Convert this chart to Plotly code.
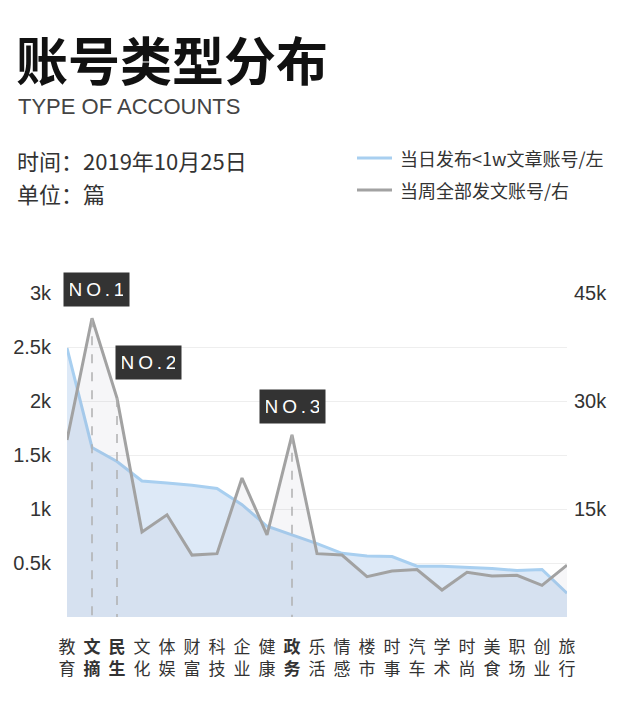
import plotly.graph_objects as go

categories = ["教育", "文摘", "民生", "文化", "体娱", "财富", "科技", "企业", "健康", "政务",
              "乐活", "情感", "楼市", "时事", "汽车", "学术", "时尚", "美食", "职场", "创业", "旅行"]
daily_lt_1w = [2490, 1570, 1440, 1260, 1240, 1220, 1190, 1040, 840, 760,
               680, 590, 565, 560, 470, 470, 460, 450, 430, 440, 220]
weekly_all = [24600, 41500, 30400, 11800, 14200, 8600, 8800, 19300, 11400, 25300,
              8800, 8600, 5600, 6400, 6600, 3750, 6200, 5700, 5800, 4400, 7200]
highlights = ["文摘", "民生", "政务"]
highlight_labels = ["N\u2009O\u2009.\u20091", "N\u2009O\u2009.\u20092", "N\u2009O\u2009.\u20093"]
left_ticks = [500, 1000, 1500, 2000, 2500, 3000]
left_tick_text = ["0.5k", "1k", "1.5k", "2k", "2.5k", "3k"]
right_ticks = [15000, 30000, 45000]
right_tick_text = ["15k", "30k", "45k"]
legend_names = ["当日发布<1w文章账号/左", "当周全部发文账号/右"]

# page body has an 8px margin: work in reference pixels minus that offset
OFF = 8
W, H = 626 - OFF, 705 - OFF
L, R, T, B = 67 - OFF, 567 - OFF, 293 - OFF, 617 - OFF
FONT = "Liberation Sans, Noto Sans CJK SC, sans-serif"
CJK = "Noto Sans CJK SC, sans-serif"


def px(x):
    return (x - OFF - L) / (R - L)


def py(y):
    return (B - (y - OFF)) / (B - T)


ticktext = []
for c in categories:
    t = c[0] + "<br>" + c[1]
    if c in highlights:
        t = "<b>" + c[0] + "</b><br><b>" + c[1] + "</b>"
    ticktext.append(t)

fig = go.Figure()
fig.add_trace(go.Scatter(
    x=categories, y=daily_lt_1w, mode="lines", fill="tozeroy",
    line=dict(color="#a8cff0", width=3), fillcolor="#dde9f7",
    yaxis="y", showlegend=False, hoverinfo="skip"))
fig.add_trace(go.Scatter(
    x=categories, y=weekly_all, mode="lines", fill="tozeroy",
    line=dict(color="#a2a2a2", width=3), fillcolor="rgba(140,140,160,0.08)",
    yaxis="y2", showlegend=False, hoverinfo="skip"))

dx, dy = [], []
for c in highlights:
    i = categories.index(c)
    dx += [c, c, None]
    dy += [weekly_all[i], 0, None]
fig.add_trace(go.Scatter(
    x=dx, y=dy, mode="lines", yaxis="y2",
    line=dict(color="#b0b0b0", width=1.5, dash="dash"),
    showlegend=False, hoverinfo="skip"))

annotations = []
shifts = [(4, 29), (31, 36), (0, 28)]
for c, lab, (xs, ys) in zip(highlights, highlight_labels, shifts):
    i = categories.index(c)
    annotations.append(dict(
        x=c, y=weekly_all[i], xref="x", yref="y2", text=lab, showarrow=False,
        xshift=xs, yshift=ys, bgcolor="#333333", width=53, height=21, borderpad=6,
        font=dict(family=FONT, size=19, color="white")))

annotations += [
    dict(x=px(14), y=py(58), xref="paper", yref="paper", xanchor="left", yanchor="middle",
         text="<b>账号类型分布</b>", showarrow=False,
         font=dict(family=CJK, size=52, color="#111111")),
    dict(x=px(16), y=py(106), xref="paper", yref="paper", xanchor="left", yanchor="middle",
         text="TYPE OF ACCOUNTS", showarrow=False,
         font=dict(family=FONT, size=22, color="#444444")),
    dict(x=px(15), y=py(160), xref="paper", yref="paper", xanchor="left", yanchor="middle",
         text="时间：2019年10月25日", showarrow=False,
         font=dict(family=CJK, size=22, color="#333333")),
    dict(x=px(15), y=py(193), xref="paper", yref="paper", xanchor="left", yanchor="middle",
         text="单位：篇", showarrow=False,
         font=dict(family=CJK, size=22, color="#333333")),
    dict(x=px(398), y=py(158), xref="paper", yref="paper", xanchor="left", yanchor="middle",
         text=legend_names[0], showarrow=False,
         font=dict(family=CJK, size=18, color="#333333")),
    dict(x=px(398), y=py(190), xref="paper", yref="paper", xanchor="left", yanchor="middle",
         text=legend_names[1], showarrow=False,
         font=dict(family=CJK, size=18, color="#333333")),
]

shapes = [
    dict(type="line", xref="paper", yref="paper", x0=px(357), x1=px(392), y0=py(158), y1=py(158),
         line=dict(color="#a8cff0", width=3)),
    dict(type="line", xref="paper", yref="paper", x0=px(357), x1=px(392), y0=py(190), y1=py(190),
         line=dict(color="#a2a2a2", width=3)),
]

fig.update_layout(
    width=W, height=H,
    margin=dict(l=L, r=W - R, t=T, b=H - B, pad=0, autoexpand=False),
    paper_bgcolor="white", plot_bgcolor="white",
    hovermode=False,
    font=dict(family=FONT, color="#333333"),
    xaxis=dict(
        range=[0, len(categories) - 1], tickvals=categories, ticktext=ticktext,
        showgrid=False, zeroline=False, showline=False, ticks="", automargin=False,
        tickfont=dict(family=CJK, size=17, color="#333333"), ticklabelstandoff=18,
        fixedrange=True),
    yaxis=dict(
        range=[0, 3000], tickvals=left_ticks, ticktext=left_tick_text,
        showgrid=True, gridcolor="#eeeeee", gridwidth=1, zeroline=False, showline=False,
        ticks="", tickfont=dict(family=FONT, size=20, color="#333333"), automargin=False,
        ticklabelstandoff=15, fixedrange=True),
    yaxis2=dict(
        range=[0, 45000], overlaying="y", side="right", tickvals=right_ticks,
        ticktext=right_tick_text, showgrid=False, zeroline=False, showline=False,
        ticks="", tickfont=dict(family=FONT, size=20, color="#333333"), automargin=False,
        ticklabelstandoff=6, fixedrange=True),
    annotations=annotations, shapes=shapes,
)

fig.write_html("out.html", config={"displayModeBar": False})
